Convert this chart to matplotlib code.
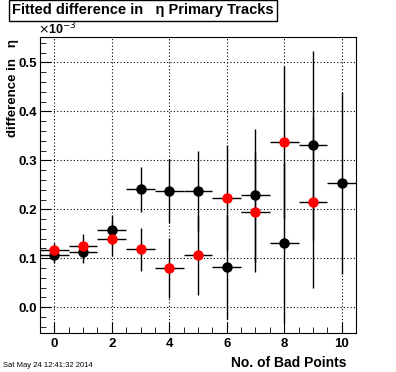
import matplotlib
matplotlib.use('Agg')
import matplotlib.pyplot as plt
from matplotlib.ticker import MultipleLocator

plt.rcParams['font.family'] = ['Liberation Sans', 'DejaVu Sans']

# data (values in units of 1e-3)
bad_points_black = [0, 1, 2, 3, 4, 5, 6, 7, 8, 9, 10]
diff_black = [0.106, 0.112, 0.158, 0.241, 0.237, 0.237, 0.082, 0.229, 0.131, 0.331, 0.253]
err_black = [0.015, 0.022, 0.030, 0.046, 0.065, 0.082, 0.107, 0.136, 0.164, 0.193, 0.186]

bad_points_red = [0, 1, 2, 3, 4, 5, 6, 7, 8, 9]
diff_red = [0.117, 0.125, 0.139, 0.118, 0.080, 0.106, 0.224, 0.195, 0.337, 0.214]
err_red = [0.015, 0.024, 0.035, 0.044, 0.062, 0.080, 0.107, 0.122, 0.155, 0.175]

fig = plt.figure(figsize=(3.96, 3.72), dpi=100)
ax = fig.add_axes([0.101, 0.105, 0.798, 0.7955])

ax.errorbar(bad_points_black, diff_black, xerr=0.5, yerr=err_black, fmt='o',
            color='black', ecolor='black', elinewidth=1, markersize=6.5, capsize=0, zorder=3)
ax.errorbar(bad_points_red, diff_red, xerr=0.5, yerr=err_red, fmt='o',
            color='red', ecolor='black', elinewidth=1, markersize=6.5, capsize=0, zorder=4)

ax.set_xlim(-0.5, 10.5)
ax.set_ylim(-0.0525, 0.552)
ax.xaxis.set_major_locator(MultipleLocator(2))
ax.xaxis.set_minor_locator(MultipleLocator(0.5))
ax.yaxis.set_major_locator(MultipleLocator(0.1))
ax.yaxis.set_minor_locator(MultipleLocator(0.02))
ax.tick_params(which='both', direction='in', top=False, right=False, labelsize=9.5)
ax.tick_params(which='major', length=8)
ax.tick_params(which='minor', length=4)
ax.tick_params(axis='y', pad=2)
for lab in ax.get_xticklabels() + ax.get_yticklabels():
    lab.set_fontweight('bold')
ax.grid(True, linestyle=(0, (1, 2)), color='black', linewidth=0.8)
ax.set_axisbelow(True)

fig.text(0.096, 0.9, r'$\times$10$^{-3}$', fontsize=9, fontweight='bold', ha='left', va='bottom')
fig.text(0.032, 0.895, 'difference in   η', rotation=90, fontsize=9.5, fontweight='bold',
         ha='center', va='top')
fig.text(0.874, 0.006, 'No. of Bad Points', fontsize=10, fontweight='bold', ha='right', va='bottom')
fig.text(0.008, 0.008, 'Sat May 24 12:41:32 2014', fontsize=5.5, ha='left', va='bottom')
fig.text(0.03, 0.972, 'Fitted difference in   η Primary Tracks', fontsize=10.5, fontweight='bold',
         ha='left', va='center',
         bbox=dict(boxstyle='square,pad=0.22', facecolor='white', edgecolor='black', linewidth=1))

fig.savefig('out.png', dpi=100)
